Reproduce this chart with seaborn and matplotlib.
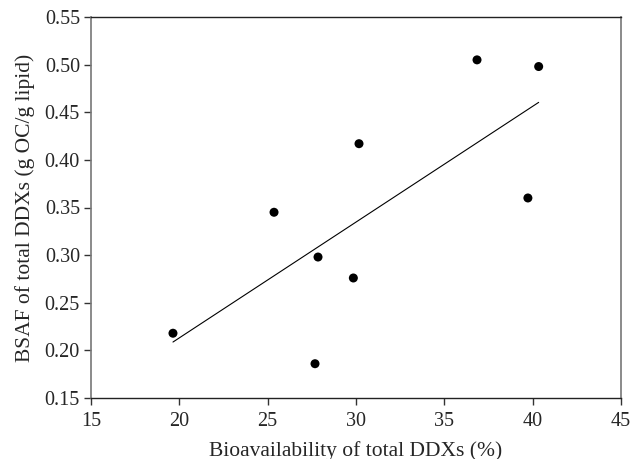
import matplotlib
matplotlib.use("Agg")
import matplotlib.pyplot as plt
import seaborn as sns
import pandas as pd

bioavailability = [19.64, 25.36, 27.85, 27.68, 29.85, 30.17, 36.85, 40.34, 39.73]
bsaf = [0.218, 0.345, 0.298, 0.186, 0.276, 0.417, 0.505, 0.498, 0.360]
x_ticks = [15, 20, 25, 30, 35, 40, 45]
y_ticks = [0.15, 0.20, 0.25, 0.30, 0.35, 0.40, 0.45, 0.50, 0.55]

sns.set_style("white")
plt.rcParams['font.family'] = ['Liberation Serif', 'DejaVu Serif']

df = pd.DataFrame({"x": bioavailability, "y": bsaf})

fig = plt.figure(figsize=(6.3, 4.59), dpi=100)
ax = fig.add_axes([91/630, 1-398/459, (621-91)/630, (398-17)/459])

sns.regplot(data=df, x="x", y="y", ax=ax, ci=None, truncate=True,
            scatter_kws=dict(s=42, color="black", edgecolor="none", alpha=1),
            line_kws=dict(color="black", lw=0.8))

ax.set_xlim(15, 45)
ax.set_ylim(0.15, 0.55)
ax.set_xticks(x_ticks)
ax.set_yticks(y_ticks)
ax.set_xticklabels([str(t) for t in x_ticks])
ax.set_yticklabels([f"{t:.2f}" for t in y_ticks])
ax.tick_params(axis="both", direction="out", length=5, width=1, labelsize=14.5,
               bottom=True, left=True, top=False, right=False, pad=3, color="#333333")
ax.tick_params(axis="x", pad=5)
ax.set_xlabel("Bioavailability of total DDXs (%)", fontsize=15.5, labelpad=7)
ax.set_ylabel("BSAF of total DDXs (g OC/g lipid)", fontsize=15.5, labelpad=7)

for side in ["left", "right"]:
    ax.spines[side].set_color("#777777")
    ax.spines[side].set_linewidth(1.2)
for side in ["top", "bottom"]:
    ax.spines[side].set_color("#222222")
    ax.spines[side].set_linewidth(1.0)

fig.savefig("out.png", dpi=100)
